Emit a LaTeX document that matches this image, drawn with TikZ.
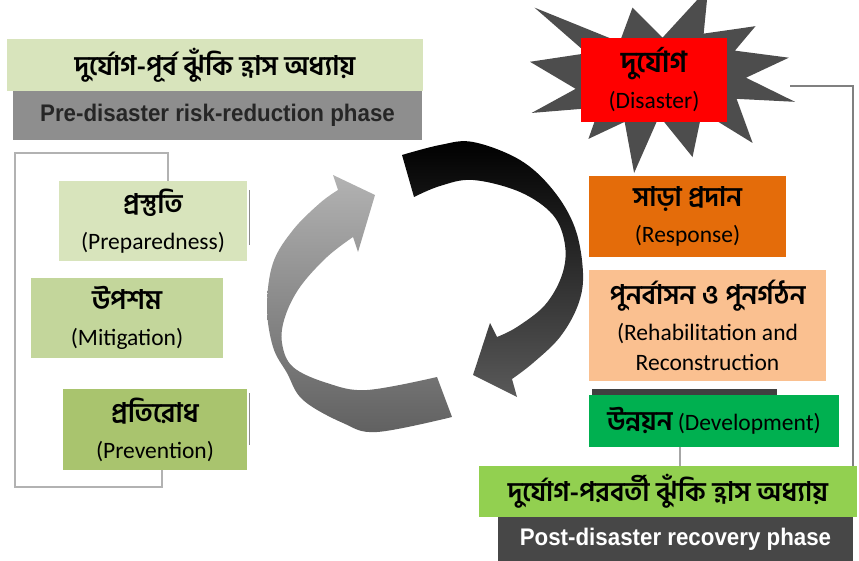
\documentclass[tikz,border=0pt]{standalone}
\usepackage{fontspec}
\usepackage{xcolor}
\usepackage{tikz}
\setmainfont{Carlito}
\newfontfamily\bnfont[Script=Bengali]{Hind Siliguri}
\newfontfamily\phasefont[FakeStretch=0.93]{Liberation Sans}

\definecolor{prepgreen}{HTML}{D8E4BC}
\definecolor{mitigreen}{HTML}{C3D69B}
\definecolor{prevgreen}{HTML}{A9C46E}
\definecolor{phasegray}{HTML}{8E8E8E}
\definecolor{resporange}{HTML}{E46C0A}
\definecolor{rehabpeach}{HTML}{FAC090}
\definecolor{develgreen}{HTML}{00B050}
\definecolor{postgreen}{HTML}{92D050}
\definecolor{postgray}{HTML}{474747}
\definecolor{stargray}{HTML}{4D4D4D}

\newcommand{\bn}[1]{{\bnfont\bfseries\fontsize{27}{36}\selectfont #1}}
\newcommand{\bntitle}[1]{{\bnfont\bfseries\fontsize{27}{36}\selectfont #1}}

\begin{document}
\begin{tikzpicture}[x=1pt, y=-1pt,
      box/.style={rectangle, inner sep=0pt, align=center, font=\fontsize{23.5}{36}\selectfont},
      phase/.style={rectangle, inner sep=0pt, font=\phasefont\bfseries\fontsize{24}{28}\selectfont},
      bracket/.style={draw=black!30, line width=2pt},
      tick/.style={draw=black!45, line width=1.2pt}]
    \useasboundingbox (0,0) rectangle (859,561);

    % pre-disaster side
    \node[box, fill=prepgreen, minimum width=416pt, minimum height=52pt] (pretitle) at (215,65)
      {\bntitle{দুর্যোগ-পূর্ব ঝুঁকি হ্রাস অধ্যায়}};
    \node[phase, fill=phasegray, text=black!85, minimum width=409pt, minimum height=49pt] (prephase) at (217.5,115.5)
      {Pre-disaster risk-reduction phase};

    \node[box, fill=prepgreen, minimum width=188pt, minimum height=80pt] (prep) at (153,221)
      {\bn{প্রস্তুতি}\\(Preparedness)};
    \node[box, fill=mitigreen, minimum width=192pt, minimum height=80pt] (miti) at (127,318)
      {\bn{উপশম}\\(Mitigation)};
    \node[box, fill=prevgreen, minimum width=184pt, minimum height=81pt] (prev) at (155,429.5)
      {\bn{প্রতিরোধ}\\(Prevention)};

    \coordinate (lbtop) at (15,153);
    \coordinate (lbbot) at (162,487);
    \draw[bracket] ([xshift=15pt]prep.north) |- (lbtop) |- (lbbot) -- ([xshift=7pt]prev.south);
    \draw[tick] ([shift={(2pt,16pt)}]prep.south east) -- ([shift={(2pt,71pt)}]prep.south east);
    \draw[tick] ([shift={(2pt,25pt)}]prev.south east) -- ([shift={(2pt,77pt)}]prev.south east);

    % cycle arrows
    \shade[top color=black!30, middle color=black!40, bottom color=black!62]
      plot[smooth, tension=0.6] coordinates {(437,377) (367,390) (327,383) (293,367) (282,343) (285,317) (300,287) (327,257) (353,237)}
      -- (358,252) -- (375,195) -- (333,175) -- (338,190)
      -- plot[smooth, tension=0.6] coordinates {(338,190) (320,203) (293,230) (273,263) (267,307) (273,347) (287,373) (303,400) (343,423) (377,432) (452,417)}
      -- cycle;
    \shade[top color=black, middle color=black!74, bottom color=black!65]
      plot[smooth, tension=0.6] coordinates {(402,155) (440,145) (473,142) (520,160) (553,190) (575,228) (583,273) (578,305) (560,337) (533,363) (512,379)}
      -- (517,397) -- (473,375) -- (490,323) -- (497,337)
      -- plot[smooth, tension=0.6] coordinates {(497,337) (517,327) (545,305) (562,275) (565,245) (553,215) (520,192) (473,180) (440,186) (414,197)}
      -- cycle;

    % disaster burst
    \begin{scope}[shift={(530,-12)}, xscale=1.2269, yscale=0.8565]
      \fill[stargray] (108,58) -- (145.22,0) -- (141.55,53.25) -- (183.8,44.57) -- (167.02,73.15)
        -- (210.97,81.37) -- (176.07,104.75) -- (216,132.9) -- (168.37,129.42) -- (181.45,180.95)
        -- (140.2,144.57) -- (132.47,197.37) -- (105.32,149.35) -- (84.85,216) -- (77.15,156.27)
        -- (47.62,176.17) -- (56.67,139.37) -- (1.35,145.87) -- (37.22,117.75) -- (0,86.15)
        -- (46.27,76.17) -- (3.7,22.95) -- (73.12,63.2) -- (83.52,22.95) -- cycle;
    \end{scope}
    \node[box, fill=red, minimum width=146pt, minimum height=84pt] (disaster) at (654,80)
      {{\bnfont\bfseries\fontsize{29}{38}\selectfont দুর্যোগ}\\(Disaster)};

    % post-disaster side
    \node[box, fill=resporange, minimum width=197pt, minimum height=81pt] (resp) at (687.5,216.5)
      {\bn{সাড়া প্রদান}\\(Response)};
    \node[box, fill=rehabpeach, minimum width=237pt, minimum height=111pt] (rehab) at (707.5,325.5)
      {\bn{পুনর্বাসন ও পুনর্গঠন}\\(Rehabilitation and\\[-6pt]Reconstruction};
    \fill[black!75] (592,389) rectangle (777,447);
    \node[box, fill=develgreen, minimum width=250pt, minimum height=52pt] (devel) at (714,421)
      {\bn{উন্নয়ন} (Development)};

    \node[box, fill=postgreen, minimum width=378pt, minimum height=51pt] (posttitle) at (668,491.5)
      {\bntitle{দুর্যোগ-পরবর্তী ঝুঁকি হ্রাস অধ্যায়}};
    \node[phase, fill=postgray, text=white, minimum width=355pt, minimum height=44pt] (postphase) at (675.5,539)
      {Post-disaster recovery phase};
    \coordinate (burstR) at (790,86);
    \draw[draw=black!50, line width=1.6pt] (burstR) -| ([xshift=-4pt]posttitle.north east);
    \draw[tick, draw=black!35] ([xshift=-34pt]devel.south) -- ([xshift=-34pt]devel.south |- posttitle.north);
  \end{tikzpicture}
\end{document}
